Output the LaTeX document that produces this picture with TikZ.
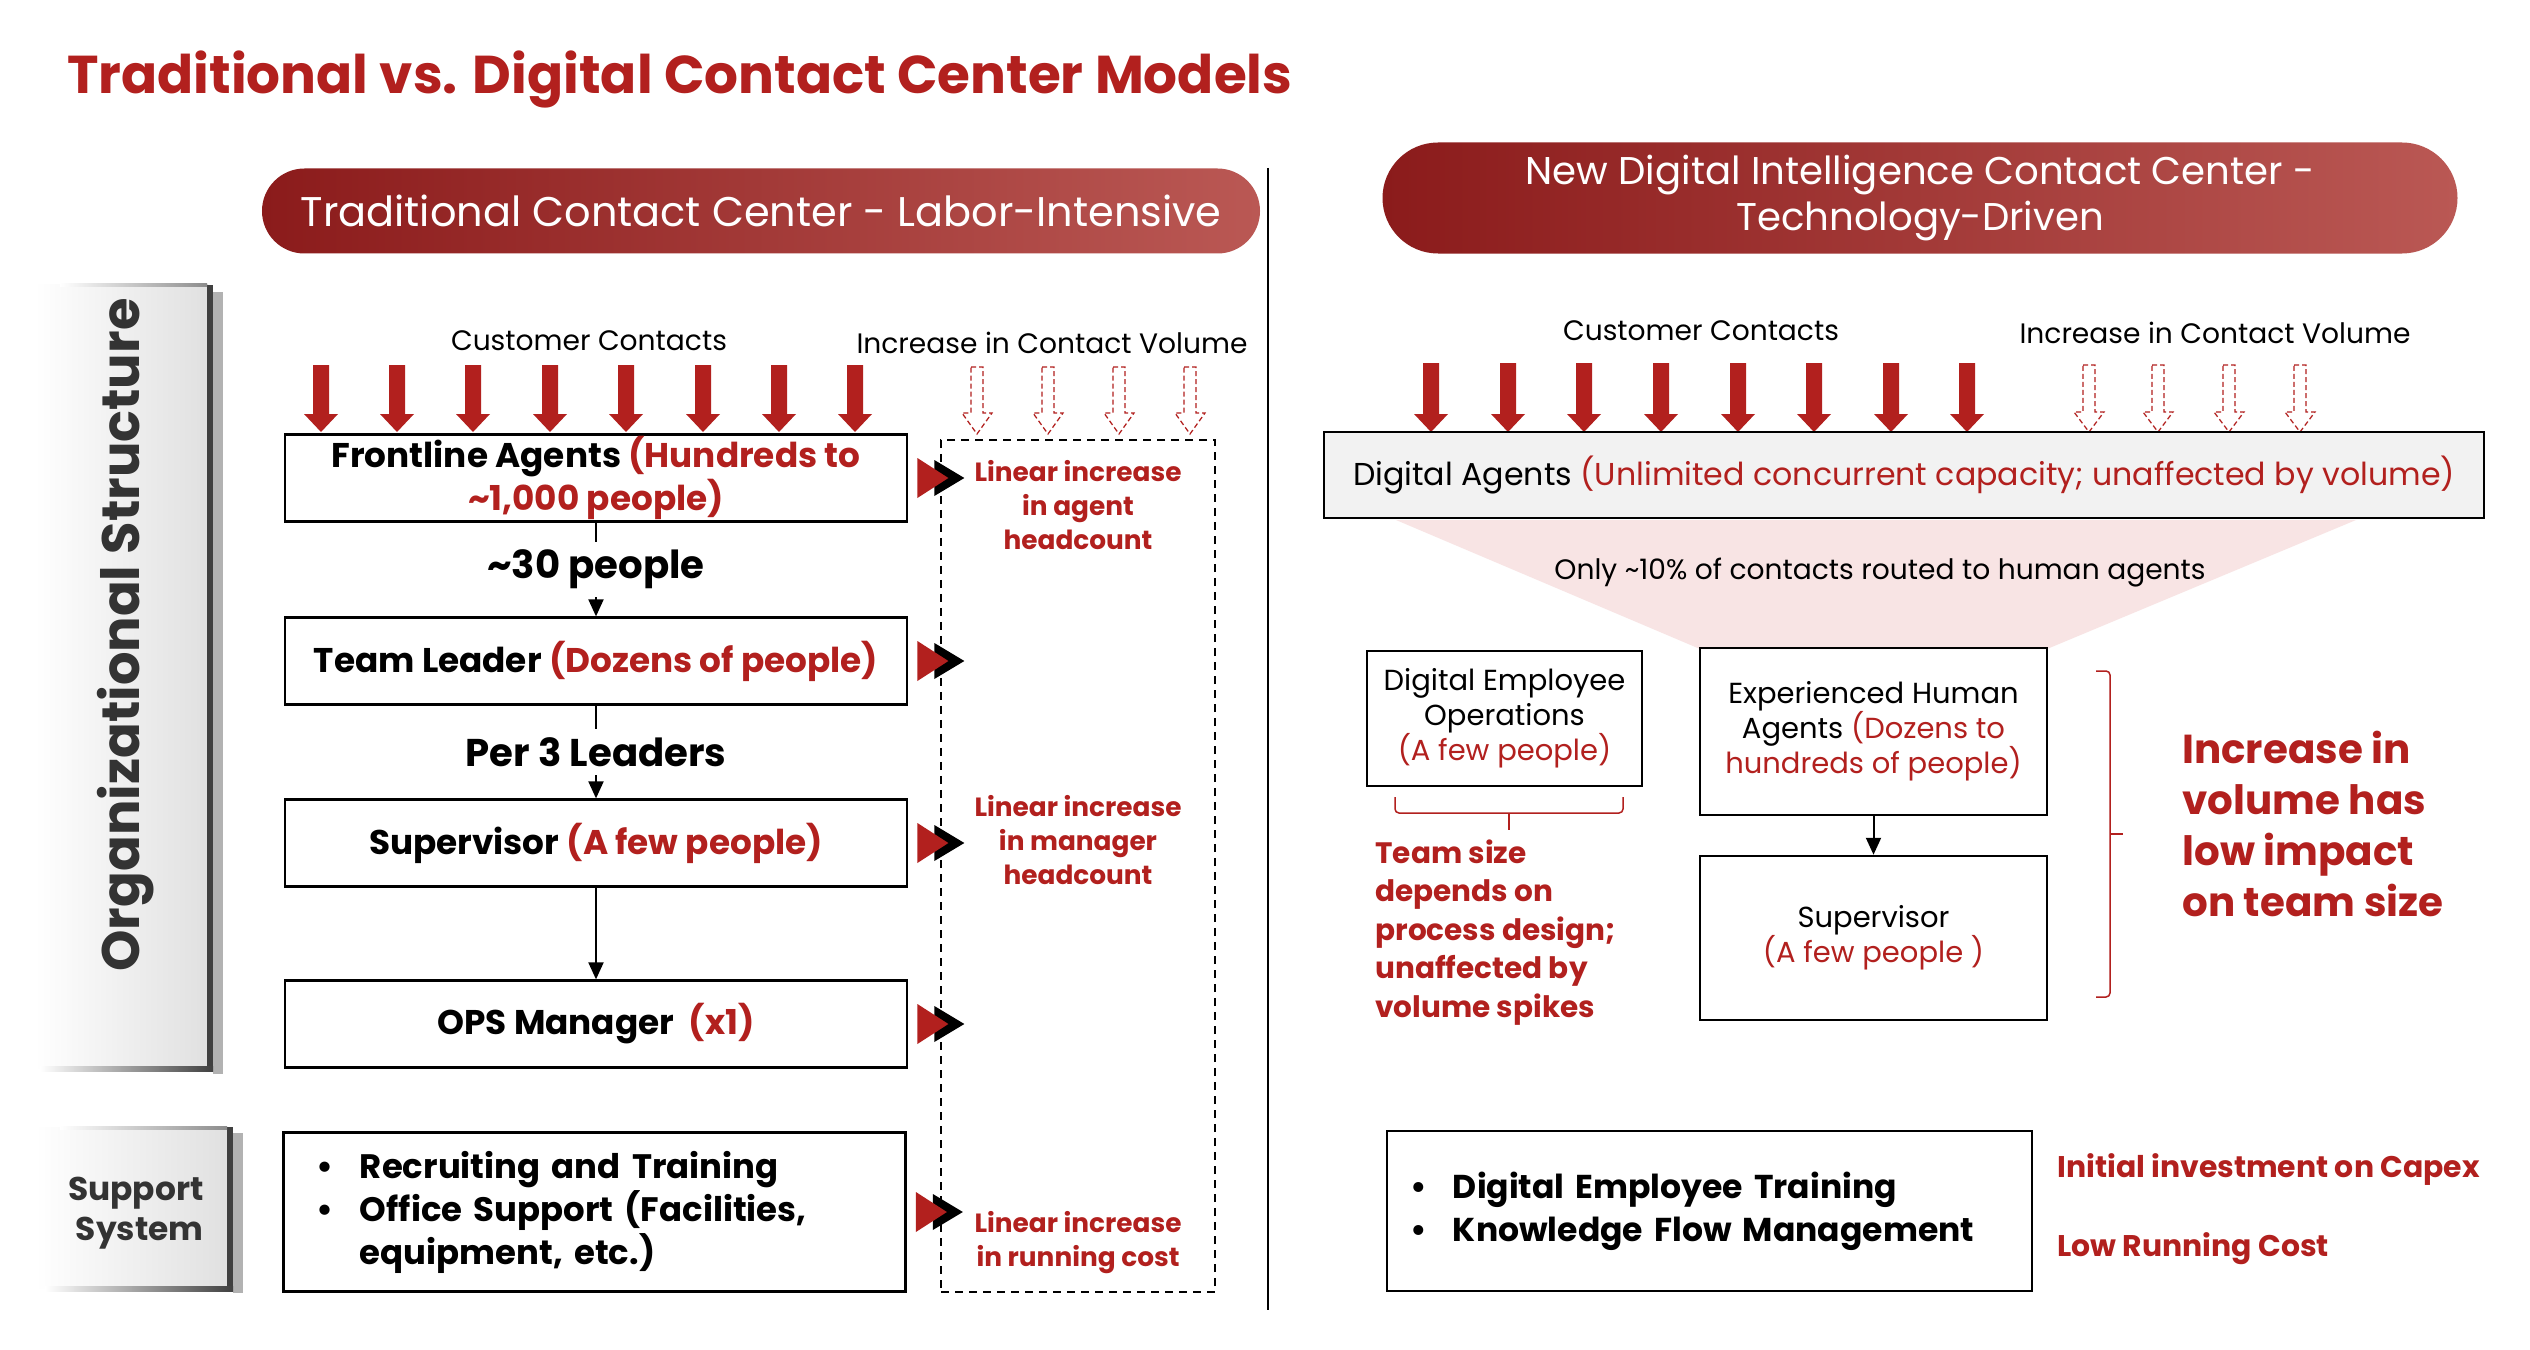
\documentclass[tikz,border=0pt]{standalone}
\usepackage{fontspec}
\setmainfont{Poppins}
\usetikzlibrary{arrows.meta}

\definecolor{cred}{RGB}{178,32,30}
\definecolor{pillL}{RGB}{139,27,27}
\definecolor{pillR}{RGB}{186,88,84}
\definecolor{funnel}{RGB}{248,228,228}
\definecolor{agentfill}{RGB}{242,242,242}

\newcommand{\redpart}[1]{\textcolor{cred}{#1}}
\newcommand{\bul}{\makebox[8.6mm][l]{\textbullet}}

\begin{document}
\begin{tikzpicture}[x=0.2mm, y=-0.2mm,
  every node/.style={inner sep=0pt},
  orgbox/.style={draw, line width=0.55mm, minimum width=124.4mm, minimum height=17.3mm,
    align=center, font=\fontsize{19.5}{23}\selectfont\bfseries},
  hbox/.style={draw, line width=0.5mm, align=center, font=\fontsize{16.5}{20}\selectfont},
  growtxt/.style={text=cred, align=center, font=\fontsize{15}{19.3}\selectfont\bfseries},
  contacttxt/.style={font=\fontsize{16}{19}\selectfont},
  steplabel/.style={fill=white, inner xsep=1mm, inner ysep=1.6mm, font=\fontsize{22}{26}\selectfont\bfseries},
  flow/.style={line width=0.4mm, -{Triangle[length=3.4mm,width=3mm]}},
  pill/.style={text=white, align=center, left color=pillL, right color=pillR}
]
\useasboundingbox (0,0) rectangle (2530,1350);
\fill[white] (0,0) rectangle (2530,1350);

% title and headers
\node[anchor=base west, text=cred, font=\fontsize{30.3}{36}\selectfont\bfseries] (title) at (67,94)
  {Traditional vs. Digital Contact Center Models};
\node[pill, minimum width=199.6mm, minimum height=17mm, rounded corners=8.5mm,
  font=\fontsize{23.6}{28}\selectfont] (oldhead) at (761,211) {Traditional Contact Center - Labor-Intensive};
\node[pill, minimum width=215mm, minimum height=22.2mm, rounded corners=11.1mm,
  font=\fontsize{22}{26}\selectfont] (newhead) at (1920,198) {New Digital Intelligence Contact Center -\\Technology-Driven};

\draw[line width=0.4mm] (1268,168) -- (1268,1310);

% side panels
\shade[left color=white, right color=black!12] (35,285) rectangle (208,1068);
\fill[black!30] (213,292) rectangle (223,1074);
\fill[black!75] (207,285) rectangle (213,1070);
\shade[left color=white, right color=black!75] (40,1066) rectangle (213,1071);
\shade[left color=white, right color=black!45] (60,284) rectangle (207,287);
\node[rotate=90, text=black!80, font=\fontsize{30}{34}\selectfont\bfseries] (orgtxt) at (126,635) {Organizational Structure};

\shade[left color=white, right color=black!12] (35,1127) rectangle (228,1288);
\fill[black!30] (233,1133) rectangle (243,1293);
\fill[black!75] (227,1127) rectangle (233,1290);
\shade[left color=white, right color=black!75] (45,1286) rectangle (233,1291);
\shade[left color=white, right color=black!45] (60,1126) rectangle (227,1129);
\node[anchor=east, align=right, text=black!80, font=\fontsize{18.7}{22.8}\selectfont\bfseries] (supptxt) at (204,1213) {Support\\System};

% traditional side
\node[contacttxt] (oldcc) at (589,341) {Customer Contacts};
\node[contacttxt] (oldvol) at (1052,343) {Increase in Contact Volume};
\foreach \x in {321,397,473,550,626,703,779,855} {
  \fill[cred] (\x-8,365) -- (\x+8,365) -- (\x+8,414) -- (\x+17,414) -- (\x,432) -- (\x-17,414) -- (\x-8,414) -- cycle;
}
\foreach \x in {977,1048,1119,1190} {
  \draw[cred, line width=0.25mm, dash pattern=on 1mm off 0.6mm] (\x-6,367) -- (\x+6,367) -- (\x+6,413)
    -- (\x+15,413) -- (\x,434) -- (\x-15,413) -- (\x-6,413) -- cycle;
}

\node[orgbox] (front) at (596,478) {Frontline Agents \redpart{(Hundreds to}\\\redpart{\textasciitilde 1,000 people)}};
\node[orgbox] (lead) at (596,661) {Team Leader \redpart{(Dozens of people)}};
\node[orgbox] (sup) at (596,843) {Supervisor \redpart{(A few people)}};
\node[orgbox] (ops) at (596,1024) {OPS Manager \ \redpart{(x1)}};
\node[orgbox, minimum height=31.8mm, align=left, text width=111mm, inner xsep=6.4mm,
  font=\fontsize{19.3}{24.5}\selectfont\bfseries] (supp) at (594.5,1212)
  {\bul Recruiting and Training\\\bul Office Support (Facilities,\\\hspace*{8.6mm}equipment, etc.)};

\draw[flow] (front) -- node[steplabel] (thirty) {\textasciitilde 30 people} (lead);
\draw[flow] (lead) -- node[steplabel] (perthree) {Per 3 Leaders} (sup);
\draw[flow] (sup) -- (ops);

\node[draw, line width=0.4mm, dash pattern=on 1.6mm off 1.2mm, minimum width=54.8mm,
  minimum height=170.4mm] (growcol) at (1078,866) {};
\foreach \b in {front,lead,sup,ops,supp} {
  \fill (\b.east) ++(26,-18) -- ++(30,18) -- ++(-30,18) -- cycle;
  \fill[cred] (\b.east) ++(9,-20) -- ++(31,20) -- ++(-31,20) -- cycle;
}
\node[growtxt] (agentgrow) at (1078,505) {Linear increase\\in agent\\headcount};
\node[growtxt] (mgrgrow) at (1078,840) {Linear increase\\in manager\\headcount};
\node[growtxt] (costgrow) at (1078,1243) {Linear increase\\in running cost};

% digital side
\fill[funnel] (1396,520) -- (2356,520) -- (2047,649) -- (1700,649) -- cycle;
\node[contacttxt] (newcc) at (1701,331) {Customer Contacts};
\node[contacttxt] (newvol) at (2215,333) {Increase in Contact Volume};
\foreach \x in {1431,1508,1584,1661,1738,1814,1891,1967} {
  \fill[cred] (\x-8,363) -- (\x+8,363) -- (\x+8,414) -- (\x+17,414) -- (\x,432) -- (\x-17,414) -- (\x-8,414) -- cycle;
}
\foreach \x in {2089,2158,2229,2300} {
  \draw[cred, line width=0.25mm, dash pattern=on 1mm off 0.6mm] (\x-6,365) -- (\x+6,365) -- (\x+6,412)
    -- (\x+15,412) -- (\x,432) -- (\x-15,412) -- (\x-6,412) -- cycle;
}

\node[draw, line width=0.5mm, fill=agentfill, minimum width=232mm, minimum height=17.2mm,
  font=\fontsize{18}{22}\selectfont] (digital) at (1904,475)
  {Digital Agents \redpart{(Unlimited concurrent capacity; unaffected by volume)}};
\node[font=\fontsize{16}{19}\selectfont] (routed) at (1880,573) {Only \textasciitilde 10\% of contacts routed to human agents};

\node[hbox, minimum width=55mm, minimum height=27mm] (deo) at (1504.5,718.5)
  {Digital Employee\\Operations\\\redpart{(A few people)}};
\node[hbox, minimum width=69.4mm, minimum height=33.4mm] (exp) at (1873.5,731.5)
  {Experienced Human\\Agents \redpart{(Dozens to}\\\redpart{hundreds of people)}};
\node[hbox, minimum width=69.4mm, minimum height=32.8mm] (rsup) at (1873.5,938)
  {Supervisor\\\redpart{(A few people )}};
\draw[flow] (exp) -- (rsup);

\draw[cred, line width=0.3mm, rounded corners=0.8mm] (1395,797) -- (1395,813) -- (1623,813) -- (1623,797);
\draw[cred, line width=0.3mm] (1509,813) -- (1509,830);
\node[anchor=north west, text=cred, align=left, font=\fontsize{16.8}{22}\selectfont\bfseries] (teamsize) at (1375,839)
  {Team size\\depends on\\process design;\\unaffected by\\volume spikes};

\draw[cred, line width=0.3mm, rounded corners=0.8mm] (2096,671) -- (2110,671) -- (2110,997) -- (2096,997);
\draw[cred, line width=0.3mm] (2110,834) -- (2123,834);
\node[anchor=north west, text=cred, align=left, font=\fontsize{23}{29}\selectfont\bfseries] (impact) at (2182,731)
  {Increase in\\volume has\\low impact\\on team size};

\node[draw, line width=0.5mm, minimum height=32mm, text width=119.8mm, inner xsep=4.6mm, align=left,
  font=\fontsize{18.8}{24.5}\selectfont\bfseries] (rsupp) at (1709.5,1211)
  {\bul Digital Employee Training\\\bul Knowledge Flow Management};
\node[anchor=base west, text=cred, font=\fontsize{17}{20}\selectfont\bfseries] (capex) at (2057,1177) {Initial investment on Capex};
\node[anchor=base west, text=cred, font=\fontsize{17}{20}\selectfont\bfseries] (runcost) at (2057,1256) {Low Running Cost};
\end{tikzpicture}
\end{document}
